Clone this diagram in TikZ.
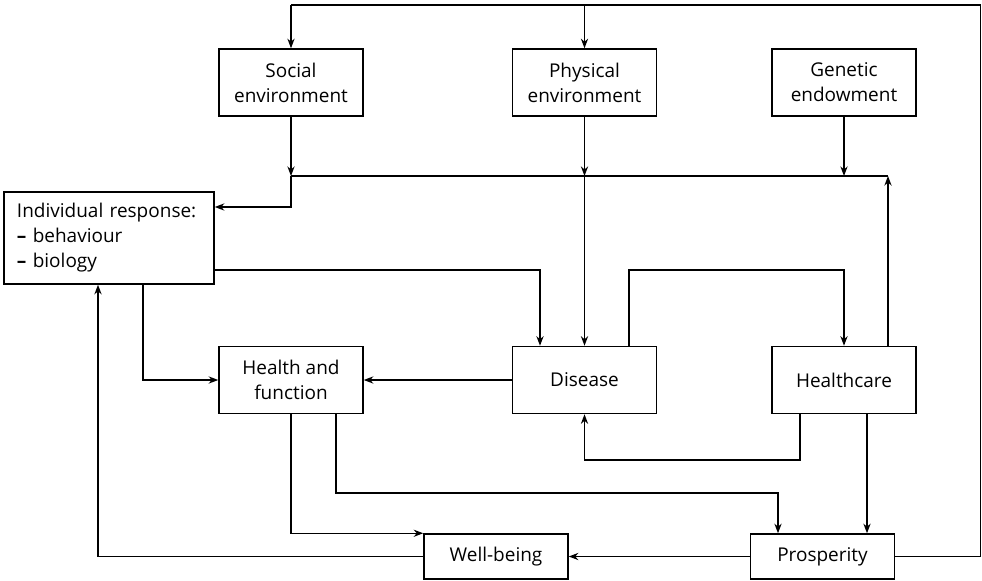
\documentclass[tikz,border=0pt]{standalone}
\usepackage{fontspec}
\setmainfont{Open Sans}
\usepackage{tikz}
\usetikzlibrary{arrows.meta,positioning}

\begin{document}
\begin{tikzpicture}[x=0.025cm, y=-0.025cm, >={Stealth[length=2.4mm,width=1.8mm]}, line width=1.05pt,
  font=\fontsize{13.5}{17.8}\selectfont,
  box/.style={draw,rectangle,align=center,minimum width=36mm,minimum height=16.75mm,inner sep=1mm},
  flat/.style={box,minimum height=11.25mm}]
  \useasboundingbox (0,0) rectangle (982,580);

  \node[box] (soc) at (291,82.5) {Social\\environment};
  \node[box] (phy) at (584.5,82.5) {Physical\\environment};
  \node[box] (gen) at (844,82.5) {Genetic\\endowment};
  \node[box,minimum width=52.5mm,minimum height=23mm,text width=46mm,inner xsep=3.25mm,align=left] (ind) at (109,238)
    {Individual response:\\\textbf{--} behaviour\\\textbf{--} biology};
  \node[box] (hf) at (291,380) {Health and\\function};
  \node[box] (dis) at (584.5,380) {Disease};
  \node[box] (hc) at (844,380) {Healthcare};
  \node[flat] (wb) at (496,556.5) {Well-being};
  \node[flat] (pr) at (822.5,556.5) {Prosperity};

  \coordinate (tl) at (291,5);
  \coordinate (tr) at (980.5,5);
  \coordinate (jl) at (291,176);
  \coordinate (jr) at (888,176);
  \coordinate (i1) at (540,270);
  \coordinate (d1) at (629,270);
  \coordinate (i2) at (143,0);
  \coordinate (h1) at (336,493);
  \coordinate (h2) at (778,493);
  \coordinate (c1) at (800,460);
  \coordinate (c2) at (867,0);
  \coordinate (w1) at (98,0);

  % outer loop back from prosperity
  \draw (pr.east) -| (tr) -- (tl);
  \draw[->] (tl) -- (soc.north);
  \draw[->] (phy.north |- tl) -- (phy.north);

  % environments and genes into the common line
  \draw (jl) -- (jr);
  \draw[->] (soc.south) -- (jl);
  \draw[->] (phy.south) -- (phy.south |- jl);
  \draw[->] (phy.south |- jl) -- (dis.north);
  \draw[->] (gen.south) -- (gen.south |- jl);
  \draw[->] (hc.north -| jr) -- (jr);
  \draw[->] (jl) |- ([yshift=7.75mm]ind.east);

  \draw[->] (ind.east |- i1) -| (dis.north -| i1);
  \draw[->] (dis.north -| d1) -- (d1) -| (hc.north);
  \draw[->] (ind.south -| i2) |- (hf.west);
  \draw[->] (dis.west) -- (hf.east);

  \draw[->] (hf.south) |- (wb.north west);
  \draw[->] (hf.south -| h1) -- (h1) -- (h2) -- (pr.north -| h2);
  \draw[->] (hc.south -| c1) -- (c1) -| (dis.south);
  \draw[->] (hc.south -| c2) -- (pr.north -| c2);
  \draw[->] (pr.west) -- (wb.east);
  \draw[->] (wb.west) -| (ind.south -| w1);
\end{tikzpicture}
\end{document}
